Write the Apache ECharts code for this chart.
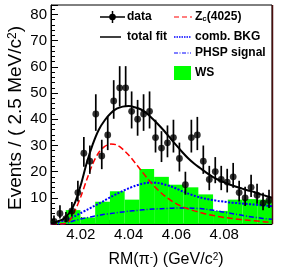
<!DOCTYPE html>
<html><head><meta charset="utf-8">
<script src="https://cdn.jsdelivr.net/npm/echarts@6/dist/echarts.min.js"></script>
<style>html,body{margin:0;padding:0;background:#fff}#c{width:284px;height:273px}</style>
</head><body><div id="c"></div>
<script>
// ---- data ----
const binCenters = [4.00875,4.01125,4.01375,4.01625,4.01875,4.02125,4.02375,4.02625,4.02875,4.03125,4.03375,4.03625,4.03875,4.04125,4.04375,4.04625,4.04875,4.05125,4.05375,4.05625,4.05875,4.06125,4.06375,4.06625,4.06875,4.07125,4.07375,4.07625,4.07875,4.08125,4.08375,4.08625,4.08875,4.09125,4.09375,4.09625,4.09875];
const dataCounts = [1,4,2,5,12,27,24,42,26,34,47,52,52,43,40,42,43,33,29,31,33,25,15,33,34,24,17,20,17,16,18,12,10,14,11,8,9];

const curveX = [4.0075,4.0100,4.0125,4.0150,4.0175,4.0200,4.0225,4.0250,4.0275,4.0300,4.0325,4.0350,4.0375,4.0400,4.0425,4.0450,4.0475,4.0500,4.0525,4.0550,4.0575,4.0600,4.0625,4.0650,4.0675,4.0700,4.0725,4.0750,4.0775,4.0800,4.0825,4.0850,4.0875,4.0900,4.0925,4.0950,4.0975,4.1000];
const totalFit = [0.3,0.9,1.8,4.0,8.1,15.0,23.5,30.5,36.0,39.6,42.3,44.0,44.8,45.0,44.6,43.8,42.3,40.2,37.9,35.4,32.7,30.0,27.4,25.0,23.0,21.3,19.6,18.1,16.9,15.9,15.0,14.2,13.5,12.8,12.2,11.4,10.7,10.0];
const zcCurve = [0,0,0,1,5,10.5,17,23,27.3,29.6,30.5,30.2,28.6,26.3,23.6,20.7,17.8,15.1,12.8,10.8,9.1,7.7,6.6,5.7,5.0,4.4,3.8,3.3,2.9,2.5,2.2,1.9,1.6,1.4,1.2,1.0,0.8,0.6];
const bkgCurve = [0,0.6,1.2,2,3,4.2,5.4,6.6,7.8,9,10.3,11.5,12.6,13.6,14.5,15.2,15.7,15.8,15.6,15.1,14.4,13.5,12.5,11.6,10.8,10.1,9.6,9.2,8.8,8.5,8.2,8.0,7.8,7.6,7.4,7.2,7.0,6.8];
const phspCurve = [0,0,0,0.6,1.3,1.9,2.4,2.9,3.3,3.7,4.0,4.3,4.6,4.9,5.1,5.3,5.5,5.7,5.8,5.9,6.0,6.1,6.1,6.1,6.0,5.9,5.6,5.3,4.9,4.5,4.1,3.7,3.3,2.9,2.6,2.3,2.0,1.8];

const wsLow = 4.0075, wsHigh = 4.1;
const wsCounts = [1,5.3,2.5,8.5,12.5,9.3,21,18,15,14,11.3,5,9.3,9.5,9.3];

const xMin = 4.0075, xMax = 4.1, yMin = 0, yMax = 83.6;
const xMajor = [4.02,4.04,4.06,4.08];
const xMinor = [4.008,4.012,4.016,4.024,4.028,4.032,4.036,4.044,4.048,4.052,4.056,4.064,4.068,4.072,4.076,4.084,4.088,4.092,4.096];

// Poisson (Garwood, Wilson-Hilferty) error bars as in RooFit
function poisUp(n){const m=n+1;return m*Math.pow(1-1/(9*m)+1/(3*Math.sqrt(m)),3);}
function poisLo(n){if(n<=0)return 0;return n*Math.pow(1-1/(9*n)-1/(3*Math.sqrt(n)),3);}

const FONT = "'Liberation Sans', Arial, Helvetica, sans-serif";
const pts = binCenters.map((x,i)=>[x,dataCounts[i]]);
const errs = binCenters.map((x,i)=>[x,dataCounts[i],poisLo(dataCounts[i]),poisUp(dataCounts[i])]);
const wsW = (wsHigh-wsLow)/wsCounts.length;
const wsData = wsCounts.map((v,i)=>[wsLow+i*wsW, wsLow+(i+1)*wsW, v]);
const pair = arr => curveX.map((x,i)=>[x,arr[i]]);

const chart = echarts.init(document.getElementById('c'), null, {renderer:'canvas'});
const gridL=51, gridT=5, gridR=12, gridB=49;

const option = {
  animation:false,
  backgroundColor:'#fff',
  grid:{left:gridL,top:gridT,right:gridR,bottom:gridB,show:true,borderColor:'#000',borderWidth:1,containLabel:false},
  xAxis:[{
    type:'value',min:xMin,max:xMax,
    axisLine:{show:true,lineStyle:{color:'#000',width:1}},
    axisTick:{show:true,inside:true,length:7,customValues:xMajor,lineStyle:{color:'#000'}},
    axisLabel:{show:true,customValues:xMajor,formatter:v=>v.toFixed(2),fontSize:15,fontFamily:FONT,color:'#000',margin:3},
    splitLine:{show:false}
  },{
    type:'value',min:xMin,max:xMax,position:'bottom',
    axisLine:{show:false},
    axisTick:{show:true,inside:true,length:4,customValues:xMinor,lineStyle:{color:'#000'}},
    axisLabel:{show:false},splitLine:{show:false}
  }],
  yAxis:{
    type:'value',min:yMin,max:yMax,interval:10,
    axisLine:{show:true,lineStyle:{color:'#000',width:1}},
    axisTick:{show:true,inside:true,length:7,lineStyle:{color:'#000'}},
    minorTick:{show:true,splitNumber:5,length:4,lineStyle:{color:'#000'}},
    axisLabel:{fontSize:15,fontFamily:FONT,color:'#000',margin:4,showMaxLabel:false,formatter:v=>(v===0?'':String(v))},
    splitLine:{show:false},minorSplitLine:{show:false}
  },
  series:[
    {type:'custom',name:'WS',xAxisIndex:0,z:1,clip:true,
     renderItem:(p,api)=>{const a=api.coord([api.value(0),0]);const b=api.coord([api.value(1),api.value(2)]);
       return {type:'rect',shape:{x:a[0],y:b[1],width:b[0]-a[0],height:a[1]-b[1]},style:{fill:'#00ff00'}};},
     encode:{x:[0,1],y:2},data:wsData},
    {type:'line',name:'PHSP signal',data:pair(phspCurve),showSymbol:false,smooth:0.3,z:3,
     lineStyle:{color:'#0000ff',width:1.5,type:[5,2,1,2]}},
    {type:'line',name:'comb. BKG',data:pair(bkgCurve),showSymbol:false,smooth:0.3,z:3,
     lineStyle:{color:'#0000ff',width:2,type:[2,1.5]}},
    {type:'line',name:'Zc(4025)',data:pair(zcCurve),showSymbol:false,smooth:0.3,z:3,
     lineStyle:{color:'#ff0000',width:1.5,type:[6,3]}},
    {type:'line',name:'total fit',data:pair(totalFit),showSymbol:false,smooth:0.3,z:4,
     lineStyle:{color:'#000',width:2}},
    {type:'custom',name:'errors',z:5,clip:true,
     renderItem:(p,api)=>{const a=api.coord([api.value(0),api.value(2)]);const b=api.coord([api.value(0),api.value(3)]);
       return {type:'line',shape:{x1:a[0],y1:a[1],x2:b[0],y2:b[1]},style:{stroke:'#000',lineWidth:1.7}};},
     encode:{x:0,y:[2,3]},data:errs},
    {type:'scatter',name:'data',data:pts,symbol:'circle',symbolSize:6.8,z:6,
     itemStyle:{color:'#000'}}
  ],
  graphic:[
    {type:'line',shape:{x1:272.5,y1:5,x2:272.5,y2:224},style:{stroke:'#4a0e0e',lineWidth:1.5},z:100},
    {type:'text',x:16,y:118,rotation:Math.PI/2,style:{text:'{n|Events / ( 2.5 MeV/c}{s|2}{n|)}',align:'center',verticalAlign:'middle',
      rich:{n:{fontSize:19,fontFamily:FONT,fill:'#000'},s:{fontSize:12,fontFamily:FONT,fill:'#000',verticalAlign:'top'}}}},
    {type:'text',x:166,y:260,style:{text:'{n|RM(π}{s|-}{n|) (GeV/c}{s|2}{n|)}',align:'center',verticalAlign:'middle',
      rich:{n:{fontSize:16,fontFamily:FONT,fill:'#000'},s:{fontSize:10,fontFamily:FONT,fill:'#000',verticalAlign:'top'}}}},
    {type:'line',shape:{x1:100,y1:17,x2:125,y2:17},style:{stroke:'#000',lineWidth:1.5}},
    {type:'line',shape:{x1:112.5,y1:11,x2:112.5,y2:23},style:{stroke:'#000',lineWidth:1.5}},
    {type:'circle',shape:{cx:112.5,cy:17,r:3.3},style:{fill:'#000'}},
    {type:'text',x:127,y:17,style:{text:'data',font:'bold 12px '+FONT,fill:'#000',verticalAlign:'middle'}},
    {type:'line',shape:{x1:100,y1:37,x2:121,y2:37},style:{stroke:'#000',lineWidth:1.5}},
    {type:'text',x:127,y:37,style:{text:'total fit',font:'bold 12px '+FONT,fill:'#000',verticalAlign:'middle'}},
    {type:'line',shape:{x1:174,y1:17,x2:192,y2:17},style:{stroke:'#ff0000',lineWidth:1.2,lineDash:[5,3]}},
    {type:'text',x:195,y:17,style:{text:'{n|Z}{s|c}{n|(4025)}',verticalAlign:'middle',
      rich:{n:{fontSize:12,fontWeight:'bold',fontFamily:FONT,fill:'#000'},s:{fontSize:8,fontWeight:'bold',fontFamily:FONT,fill:'#000',verticalAlign:'bottom'}}}},
    {type:'line',shape:{x1:174,y1:37,x2:191,y2:37},style:{stroke:'#0000ff',lineWidth:1.5,lineDash:[1.5,1]}},
    {type:'text',x:195,y:37,style:{text:'comb. BKG',font:'bold 12px '+FONT,fill:'#000',verticalAlign:'middle'}},
    {type:'line',shape:{x1:174,y1:53,x2:191,y2:53},style:{stroke:'#0000ff',lineWidth:1,lineDash:[4,1.5,1,1.5]}},
    {type:'text',x:195,y:53,style:{text:'PHSP signal',font:'bold 12px '+FONT,fill:'#000',verticalAlign:'middle'}},
    {type:'rect',shape:{x:174,y:66,width:17,height:14},style:{fill:'#00ff00'}},
    {type:'text',x:195,y:73,style:{text:'WS',font:'bold 12px '+FONT,fill:'#000',verticalAlign:'middle'}}
  ]
};
chart.setOption(option);
</script>
</body></html>
